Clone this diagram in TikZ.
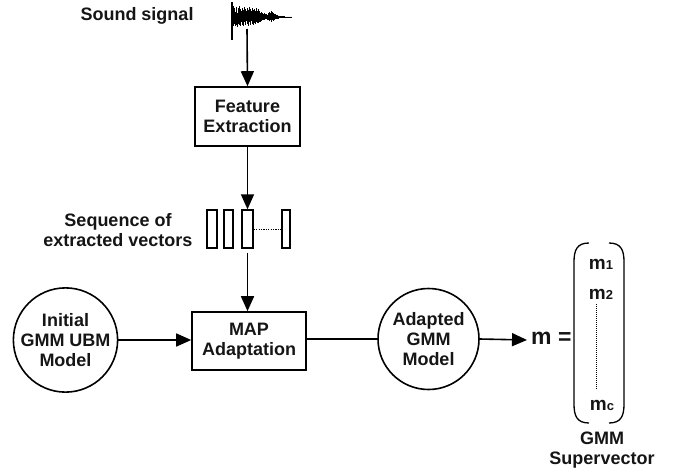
\documentclass[tikz,border=0pt]{standalone}
\usepackage{fontspec}
\setmainfont{Liberation Sans}
\usetikzlibrary{arrows.meta}
\definecolor{ink}{HTML}{151515}
\tikzset{
  lbl/.style={font=\fontsize{18}{20}\selectfont\bfseries, text=ink, align=center, inner sep=0pt},
  boxnode/.style={draw, line width=1.6pt, lbl},
  circnode/.style={draw, circle, line width=1.6pt, lbl},
  vecbox/.style={draw, line width=1.4pt, inner sep=0pt, minimum height=38pt},
  arr/.style={line width=1.6pt, -{Triangle[length=15pt,width=13pt]}},
}
\begin{document}
\begin{tikzpicture}[x=1pt,y=-1pt]
\useasboundingbox (0,0) rectangle (677,471);
% sound signal
\node[lbl] (snd) at (137,16) {Sound signal};
\draw[line width=1.3pt] (232,2) -- (232,40);
\foreach \x/\a/\b in {233/11/9,233.7/6/8,234.4/9/7,235.1/5/9,235.8/10/6,236.5/7/8,237.2/4/10,237.9/9/5,238.6/6/7,239.3/11/8,240/5/6,240.7/8/9,241.4/6/5,242.1/9/8,242.8/4/6,243.5/7/9,244.2/10/5,244.9/5/7,245.6/8/8,246.3/6/4,247/9/7,247.7/4/6,248.4/7/9,249.1/10/5,249.8/5/6,250.5/8/8,251.2/6/4,251.9/9/7,252.6/4/5,253.3/7/8,254/5/4,254.7/8/6,255.4/6/7,256.1/9/5,256.8/4/6,257.5/6/4,258.2/8/6,258.9/5/5,259.6/6/4,260.3/4/5,261/5/3,261.7/3/4,262.4/4/3,263.1/3/3,263.8/4/2,264.5/2/3,265.2/3/2,265.9/2/2,266.6/3/2,267.3/2/3,268/3/2,268.7/4/3,269.4/5/4,270.1/4/3,270.8/6/4,271.5/4/5,272.2/5/3,272.9/3/4,273.6/4/2,274.3/3/3,275/2/2,275.7/3/2,276.4/2/2,277.1/2/1.5,277.8/1.5/1.5,278.5/1.5/1.2,279.2/1.2/1,280/1/1,281/1/0.8,282/0.8/0.8,283/0.7/0.6,284/0.6/0.6,285/0.5/0.5,286/0.5/0.5,287/0.4/0.4,288/0.4/0.4,289/0.4/0.4,290/0.3/0.3,291/0.3/0.3}
  \draw[line width=0.6pt] (\x,17-\a) -- (\x,17+\b);
\draw[line width=0.8pt] (233,17) -- (292,17);
\coordinate (wave) at (247,29);
% feature extraction
\node[boxnode, minimum width=105pt, minimum height=59pt] (feat) at (247.5,116.5) {Feature\\Extraction};
% vectors
\node[vecbox, minimum width=10pt] (v1) at (212,229) {};
\node[vecbox, minimum width=9pt] (v2) at (228.5,229) {};
\node[vecbox, minimum width=11pt] (v3) at (247.5,229) {};
\node[vecbox, minimum width=8pt] (v4) at (286,229) {};
\draw[line width=1pt, dash pattern=on 1.2pt off 1.2pt] (v3.east) -- (v4.west);
\node[lbl] (seq) at (118,230) {Sequence of\\extracted vectors};
% map
\node[boxnode, minimum width=114pt, minimum height=58pt] (map) at (249,341) {MAP\\Adaptation};
% circles
\node[circnode, minimum size=99pt] (init) at (65.5,340) {Initial\\GMM UBM\\Model};
\node[circnode, minimum size=101pt] (adap) at (428.5,339) {Adapted\\GMM\\Model};
% m =
\node[font=\fontsize{23}{23}\selectfont\bfseries, text=ink, anchor=west, inner sep=0pt] (meq) at (531,338) {m =};
\coordinate (mtip) at (527,340);
% bracket
\draw[line width=1.3pt] (589,243) .. controls (577,243) and (574,250) .. (574,262) -- (574,404) .. controls (574,416) and (577,423) .. (589,423);
\draw[line width=1.3pt] (609,243) .. controls (621,243) and (624,250) .. (624,262) -- (624,404) .. controls (624,416) and (621,423) .. (609,423);
\node[lbl, font=\fontsize{19}{19}\selectfont\bfseries] (m1) at (601,264) {m{\fontsize{13}{13}\selectfont 1}};
\node[lbl, font=\fontsize{19}{19}\selectfont\bfseries] (m2) at (601,294) {m{\fontsize{13}{13}\selectfont 2}};
\node[lbl, font=\fontsize{19}{19}\selectfont\bfseries] (mc) at (602,405) {m{\fontsize{13}{13}\selectfont c}};
\draw[line width=1pt, dash pattern=on 1pt off 1pt] (596,304) -- (596,389);
\node[lbl] (sv) at (602,450) {GMM\\Supervector};
% arrows
\draw[arr] (wave) -- (feat.north);
\draw[arr] (feat.south) -- (v3.north);
\draw[arr] ([yshift=-4pt]v3.south) -- (v3.south |- map.north);
\draw[arr] (init.east) -- (init.east -| map.west);
\draw[line width=1.6pt] (map.east |- adap.west) -- (adap.west);
\draw[arr] (adap.east) -- (mtip);
\end{tikzpicture}
\end{document}
